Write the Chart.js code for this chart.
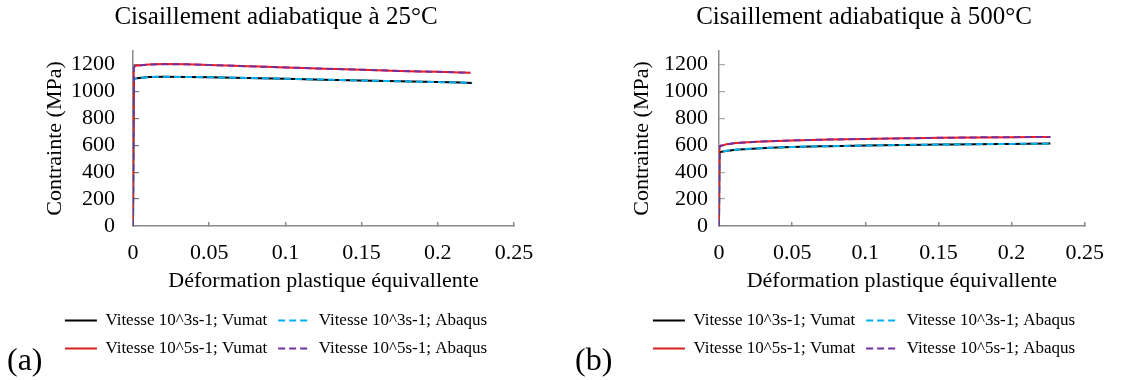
<!DOCTYPE html>
<html>
<head>
<meta charset="utf-8">
<script src="https://cdn.jsdelivr.net/npm/chart.js@4.4.1/dist/chart.umd.min.js"></script>
<style>
  html, body { margin: 0; padding: 0; background: #fff; width: 1122px; height: 380px; overflow: hidden; }
  .wrap { position: absolute; top: 0; height: 380px; }
  .tag { position: absolute; font-family: "Liberation Serif", "Times New Roman", serif; font-size: 32px; line-height: 32px; color: #000; z-index: 5; }
</style>
</head>
<body>
<div class="wrap" id="wa" style="left:0px;width:552px;"><canvas id="ca"></canvas></div>
<div class="wrap" id="wb" style="left:606px;width:516px;"><canvas id="cb"></canvas></div>
<div class="tag" style="left:7px;top:343px;">(a)</div>
<div class="tag" style="left:575px;top:343px;">(b)</div>
<script>
// ---------- data ----------
const titleA = "Cisaillement adiabatique à 25°C";
const titleB = "Cisaillement adiabatique à 500°C";
const xAxisTitle = "Déformation plastique équivallente";
const yAxisTitle = "Contrainte (MPa)";
const seriesLabels = [
  "Vitesse 10^3s-1; Vumat",
  "Vitesse 10^3s-1; Abaqus",
  "Vitesse 10^5s-1; Vumat",
  "Vitesse 10^5s-1; Abaqus"
];
const xTicks = [0, 0.05, 0.1, 0.15, 0.2, 0.25];
const yTicks = [0, 200, 400, 600, 800, 1000, 1200];

// 25°C
const strainA_1e3_vumat  = [0, 0.0005, 0.004, 0.01, 0.02, 0.035, 0.05, 0.075, 0.1, 0.125, 0.15, 0.175, 0.2, 0.2225];
const stressA_1e3_vumat  = [0, 1088, 1100, 1106, 1108, 1107, 1105, 1100, 1094, 1087, 1081, 1075, 1069, 1063];
const strainA_1e3_abaqus = [0, 0.0005, 0.004, 0.01, 0.02, 0.035, 0.05, 0.075, 0.1, 0.125, 0.15, 0.175, 0.2, 0.2222];
const stressA_1e3_abaqus = [0, 1087, 1099, 1106, 1108, 1107, 1105, 1100, 1094, 1088, 1081, 1075, 1069, 1064];
const strainA_1e5_vumat  = [0, 0.0005, 0.003, 0.01, 0.02, 0.035, 0.05, 0.075, 0.1, 0.125, 0.15, 0.175, 0.2, 0.2215];
const stressA_1e5_vumat  = [0, 1180, 1193, 1200, 1203, 1201, 1196, 1187, 1178, 1169, 1160, 1152, 1145, 1138];
const strainA_1e5_abaqus = [0, 0.0005, 0.003, 0.01, 0.02, 0.035, 0.05, 0.075, 0.1, 0.125, 0.15, 0.175, 0.2, 0.2212];
const stressA_1e5_abaqus = [0, 1179, 1192, 1199, 1202, 1201, 1196, 1187, 1178, 1169, 1161, 1152, 1145, 1139];

// 500°C
const strainB_1e3_vumat  = [0, 0.0003, 0.002, 0.005, 0.01, 0.02, 0.035, 0.05, 0.075, 0.1, 0.125, 0.15, 0.175, 0.2, 0.2265];
const stressB_1e3_vumat  = [0, 540, 552, 558, 565, 572, 581, 587, 593, 598, 602, 605, 608, 610, 612];
const strainB_1e3_abaqus = [0, 0.0003, 0.002, 0.005, 0.01, 0.02, 0.035, 0.05, 0.075, 0.1, 0.125, 0.15, 0.175, 0.2, 0.2265];
const stressB_1e3_abaqus = [0, 541, 553, 559, 565, 573, 581, 587, 593, 598, 602, 605, 608, 610, 612];
const strainB_1e5_vumat  = [0, 0.0003, 0.002, 0.005, 0.01, 0.02, 0.035, 0.05, 0.075, 0.1, 0.125, 0.15, 0.175, 0.2, 0.2265];
const stressB_1e5_vumat  = [0, 588, 598, 607, 614, 622, 630, 636, 642, 647, 651, 655, 658, 660, 661];
const strainB_1e5_abaqus = [0, 0.0003, 0.002, 0.005, 0.01, 0.02, 0.035, 0.05, 0.075, 0.1, 0.125, 0.15, 0.175, 0.2, 0.2265];
const stressB_1e5_abaqus = [0, 587, 598, 606, 614, 622, 630, 636, 642, 647, 651, 655, 658, 660, 661];

// ---------- styling ----------
const FONT = '"Liberation Serif", "Times New Roman", serif';
const colors = ["#000000", "#00B0F0", "#FF1A1A", "#7030A0"];
const legendColors = ["#000000", "#00B0F0", "#D42020", "#7030A0"];
const dashes = [[], [7, 4], [], [7, 4]];
const drawOrder = [3, 2, 1, 0]; // dashed series on top of solid ones, 10^5 above 10^3
const axisColor = "#8a8a8a";

Chart.defaults.color = "#000";
Chart.defaults.font.family = FONT;

function pts(xs, ys) { return xs.map((x, i) => ({ x: x, y: ys[i] })); }

function makeDatasets(groups) {
  return groups.map((g, i) => ({
    label: seriesLabels[i],
    data: pts(g[0], g[1]),
    borderColor: colors[i],
    backgroundColor: colors[i],
    borderWidth: 2,
    borderDash: dashes[i],
    pointRadius: 0,
    pointHoverRadius: 0,
    showLine: true,
    fill: false,
    cubicInterpolationMode: 'monotone',
    order: drawOrder[i]
  }));
}

function legendLabels(chart) {
  return chart.data.datasets.map((ds, i) => ({
    text: ds.label,
    datasetIndex: i,
    fillStyle: legendColors[i],
    strokeStyle: legendColors[i],
    lineWidth: 2,
    lineDash: dashes[i],
    lineCap: 'butt',
    pointStyle: 'line',
    rotation: 0,
    hidden: false,
    fontColor: '#000'
  }));
}

function makeChart(canvasId, title, datasets, cfg) {
  return new Chart(document.getElementById(canvasId), {
    type: 'scatter',
    data: { datasets: datasets },
    options: {
      responsive: true,
      maintainAspectRatio: false,
      animation: false,
      events: [],
      layout: { padding: { left: cfg.pad, right: cfg.pad, top: 0, bottom: 13 } },
      plugins: {
        title: {
          display: true, text: title, color: '#000',
          font: { family: FONT, size: 25, weight: 'normal' },
          padding: { top: 2, bottom: 19 }
        },
        legend: {
          display: true, position: 'bottom',
          labels: {
            usePointStyle: true, pointStyle: 'line', pointStyleWidth: 32,
            padding: 11, color: '#000',
            font: { family: FONT, size: 17 },
            generateLabels: legendLabels
          }
        },
        tooltip: { enabled: false }
      },
      scales: {
        x: {
          type: 'linear', min: 0, max: 0.25,
          afterBuildTicks: (s) => { s.ticks = xTicks.map(v => ({ value: v })); },
          afterFit: (s) => { s.height = 75; },
          ticks: {
            padding: 18, color: '#000', autoSkip: false, maxRotation: 0,
            font: { family: FONT, size: 22 },
            callback: (v) => String(Number(Number(v).toFixed(2)))
          },
          grid: { drawOnChartArea: false, drawTicks: true, tickLength: -4, color: axisColor, lineWidth: 1.5 },
          border: { display: true, color: axisColor, width: 1.5 },
          title: { display: true, text: xAxisTitle, color: '#000', font: { family: FONT, size: 22 }, padding: { top: 0, bottom: 7 } }
        },
        y: {
          type: 'linear', min: 0, max: 1300,
          afterBuildTicks: (s) => { s.ticks = yTicks.map(v => ({ value: v })); },
          afterFit: (s) => { s.width = cfg.yWidth; },
          ticks: {
            padding: cfg.yTickPad, color: '#000', autoSkip: false,
            font: { family: FONT, size: 22 },
            callback: (v) => String(v)
          },
          grid: { drawOnChartArea: false, drawTicks: true, tickLength: -6, color: cfg.yTickColor, lineWidth: 1.2 },
          border: { display: true, color: axisColor, width: 1.5 },
          title: { display: true, text: yAxisTitle, color: '#000', font: { family: FONT, size: 22 }, padding: { top: cfg.yTitlePad, bottom: 0 } }
        }
      }
    }
  });
}

makeChart('ca', titleA, makeDatasets([
  [strainA_1e3_vumat, stressA_1e3_vumat],
  [strainA_1e3_abaqus, stressA_1e3_abaqus],
  [strainA_1e5_vumat, stressA_1e5_vumat],
  [strainA_1e5_abaqus, stressA_1e5_abaqus]
]), { pad: 38, yWidth: 95, yTickPad: 24, yTitlePad: 4, yTickColor: '#777' });

makeChart('cb', titleB, makeDatasets([
  [strainB_1e3_vumat, stressB_1e3_vumat],
  [strainB_1e3_abaqus, stressB_1e3_abaqus],
  [strainB_1e5_vumat, stressB_1e5_vumat],
  [strainB_1e5_abaqus, stressB_1e5_abaqus]
]), { pad: 23, yWidth: 90, yTickPad: 17, yTitlePad: 0, yTickColor: '#aaa' });
</script>
</body>
</html>
